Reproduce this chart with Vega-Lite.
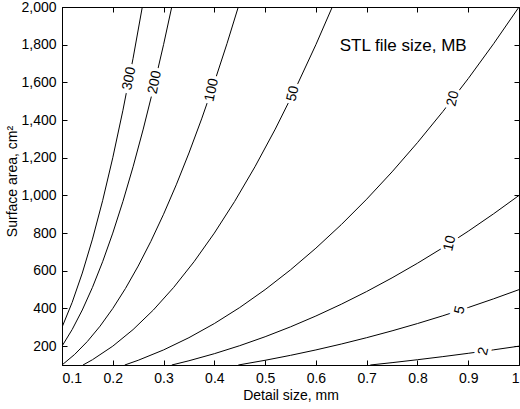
{
  "$schema": "https://vega.github.io/schema/vega-lite/v6.json",
  "width": 457,
  "height": 358,
  "autosize": "none",
  "padding": {"left": 62, "top": 7, "right": 1, "bottom": 44},
  "background": "white",
  "config": {
    "font": "Liberation Sans",
    "view": {"stroke": "black", "strokeWidth": 1},
    "axis": {"grid": false, "domainColor": "black", "tickColor": "black", "labelColor": "black", "titleColor": "black", "labelFontSize": 14, "titleFontSize": 14, "titleFontWeight": "normal", "tickSize": -5, "labelFont": "Liberation Sans", "titleFont": "Liberation Sans"}
  },
  "datasets": {
    "curves": [
      {"level": 300, "d": 0.1, "A": 300}, {"level": 300, "d": 0.12, "A": 432}, {"level": 300, "d": 0.14, "A": 588}, {"level": 300, "d": 0.16, "A": 768}, {"level": 300, "d": 0.18, "A": 972}, {"level": 300, "d": 0.2, "A": 1200}, {"level": 300, "d": 0.22, "A": 1452}, {"level": 300, "d": 0.24, "A": 1728}, {"level": 300, "d": 0.26, "A": 2028},
      {"level": 200, "d": 0.1, "A": 200}, {"level": 200, "d": 0.12, "A": 288}, {"level": 200, "d": 0.14, "A": 392}, {"level": 200, "d": 0.16, "A": 512}, {"level": 200, "d": 0.18, "A": 648}, {"level": 200, "d": 0.2, "A": 800}, {"level": 200, "d": 0.22, "A": 968}, {"level": 200, "d": 0.24, "A": 1152}, {"level": 200, "d": 0.26, "A": 1352}, {"level": 200, "d": 0.28, "A": 1568}, {"level": 200, "d": 0.3, "A": 1800}, {"level": 200, "d": 0.32, "A": 2048},
      {"level": 100, "d": 0.1, "A": 100}, {"level": 100, "d": 0.125, "A": 156.25}, {"level": 100, "d": 0.15, "A": 225}, {"level": 100, "d": 0.175, "A": 306.25}, {"level": 100, "d": 0.2, "A": 400}, {"level": 100, "d": 0.225, "A": 506.25}, {"level": 100, "d": 0.25, "A": 625}, {"level": 100, "d": 0.275, "A": 756.25}, {"level": 100, "d": 0.3, "A": 900}, {"level": 100, "d": 0.325, "A": 1056.25}, {"level": 100, "d": 0.35, "A": 1225}, {"level": 100, "d": 0.375, "A": 1406.25}, {"level": 100, "d": 0.4, "A": 1600}, {"level": 100, "d": 0.425, "A": 1806.25}, {"level": 100, "d": 0.45, "A": 2025},
      {"level": 50, "d": 0.1414, "A": 100}, {"level": 50, "d": 0.16, "A": 128}, {"level": 50, "d": 0.2, "A": 200}, {"level": 50, "d": 0.24, "A": 288}, {"level": 50, "d": 0.28, "A": 392}, {"level": 50, "d": 0.32, "A": 512}, {"level": 50, "d": 0.36, "A": 648}, {"level": 50, "d": 0.4, "A": 800}, {"level": 50, "d": 0.44, "A": 968}, {"level": 50, "d": 0.48, "A": 1152}, {"level": 50, "d": 0.52, "A": 1352}, {"level": 50, "d": 0.56, "A": 1568}, {"level": 50, "d": 0.6, "A": 1800}, {"level": 50, "d": 0.64, "A": 2048},
      {"level": 20, "d": 0.2236, "A": 100}, {"level": 20, "d": 0.25, "A": 125}, {"level": 20, "d": 0.3, "A": 180}, {"level": 20, "d": 0.35, "A": 245}, {"level": 20, "d": 0.4, "A": 320}, {"level": 20, "d": 0.45, "A": 405}, {"level": 20, "d": 0.5, "A": 500}, {"level": 20, "d": 0.55, "A": 605}, {"level": 20, "d": 0.6, "A": 720}, {"level": 20, "d": 0.65, "A": 845}, {"level": 20, "d": 0.7, "A": 980}, {"level": 20, "d": 0.75, "A": 1125}, {"level": 20, "d": 0.8, "A": 1280}, {"level": 20, "d": 0.85, "A": 1445}, {"level": 20, "d": 0.9, "A": 1620}, {"level": 20, "d": 0.95, "A": 1805}, {"level": 20, "d": 1.0, "A": 2000},
      {"level": 10, "d": 0.3162, "A": 100}, {"level": 10, "d": 0.35, "A": 122.5}, {"level": 10, "d": 0.4, "A": 160}, {"level": 10, "d": 0.45, "A": 202.5}, {"level": 10, "d": 0.5, "A": 250}, {"level": 10, "d": 0.55, "A": 302.5}, {"level": 10, "d": 0.6, "A": 360}, {"level": 10, "d": 0.65, "A": 422.5}, {"level": 10, "d": 0.7, "A": 490}, {"level": 10, "d": 0.75, "A": 562.5}, {"level": 10, "d": 0.8, "A": 640}, {"level": 10, "d": 0.85, "A": 722.5}, {"level": 10, "d": 0.9, "A": 810}, {"level": 10, "d": 0.95, "A": 902.5}, {"level": 10, "d": 1.0, "A": 1000},
      {"level": 5, "d": 0.4472, "A": 100}, {"level": 5, "d": 0.5, "A": 125}, {"level": 5, "d": 0.55, "A": 151.25}, {"level": 5, "d": 0.6, "A": 180}, {"level": 5, "d": 0.65, "A": 211.25}, {"level": 5, "d": 0.7, "A": 245}, {"level": 5, "d": 0.75, "A": 281.25}, {"level": 5, "d": 0.8, "A": 320}, {"level": 5, "d": 0.85, "A": 361.25}, {"level": 5, "d": 0.9, "A": 405}, {"level": 5, "d": 0.95, "A": 451.25}, {"level": 5, "d": 1.0, "A": 500},
      {"level": 2, "d": 0.7071, "A": 100}, {"level": 2, "d": 0.75, "A": 112.5}, {"level": 2, "d": 0.8, "A": 128}, {"level": 2, "d": 0.85, "A": 144.5}, {"level": 2, "d": 0.9, "A": 162}, {"level": 2, "d": 0.95, "A": 180.5}, {"level": 2, "d": 1.0, "A": 200}
    ],
    "labels": [
      {"level": 300, "d": 0.2324, "A": 1620},
      {"level": 200, "d": 0.283, "A": 1600},
      {"level": 100, "d": 0.395, "A": 1560},
      {"level": 50, "d": 0.555, "A": 1540},
      {"level": 20, "d": 0.87, "A": 1514},
      {"level": 10, "d": 0.864, "A": 746},
      {"level": 5, "d": 0.884, "A": 391},
      {"level": 2, "d": 0.93, "A": 173}
    ]
  },
  "layer": [
    {
      "data": {"name": "curves"},
      "mark": {"type": "line", "color": "black", "strokeWidth": 1, "clip": true},
      "encoding": {
        "x": {
          "field": "d", "type": "quantitative",
          "scale": {"domain": [0.1, 1], "nice": false, "zero": false},
          "axis": {"title": "Detail size, mm", "values": [0.1, 0.2, 0.3, 0.4, 0.5, 0.6, 0.7, 0.8, 0.9, 1], "format": "~g", "labelPadding": 11, "titleY": 23, "titleBaseline": "top"}
        },
        "y": {
          "field": "A", "type": "quantitative",
          "scale": {"domain": [100, 2000], "nice": false, "zero": false},
          "axis": {"title": "Surface area, cm²", "values": [200, 400, 600, 800, 1000, 1200, 1400, 1600, 1800, 2000], "format": ",d", "labelPadding": 11, "titleX": -50, "titleY": 174, "titleBaseline": "middle"}
        },
        "detail": {"field": "level", "type": "nominal"},
        "order": {"field": "d", "type": "quantitative"}
      }
    },
    {
      "data": {"name": "labels"},
      "mark": {"type": "text", "fontSize": 14, "stroke": "white", "strokeWidth": 7, "fill": "white", "align": "center", "baseline": "middle"},
      "encoding": {
        "x": {"field": "d", "type": "quantitative", "axis": null},
        "y": {"field": "A", "type": "quantitative", "axis": null},
        "text": {"field": "level", "type": "nominal"},
        "angle": {"field": "level", "type": "ordinal", "scale": {"domain": [300, 200, 100, 50, 20, 10, 5, 2], "range": [281, 283.5, 288.8, 295.8, 307.7, 327.3, 341.8, 352.1]}, "legend": null}
      }
    },
    {
      "data": {"name": "labels"},
      "mark": {"type": "text", "fontSize": 14, "fill": "black", "align": "center", "baseline": "middle"},
      "encoding": {
        "x": {"field": "d", "type": "quantitative", "axis": null},
        "y": {"field": "A", "type": "quantitative", "axis": null},
        "text": {"field": "level", "type": "nominal"},
        "angle": {"field": "level", "type": "ordinal", "scale": {"domain": [300, 200, 100, 50, 20, 10, 5, 2], "range": [281, 283.5, 288.8, 295.8, 307.7, 327.3, 341.8, 352.1]}, "legend": null}
      }
    },
    {
      "data": {"values": [{"t": "STL file size, MB"}]},
      "mark": {"type": "text", "fontSize": 17, "fill": "black", "align": "center", "baseline": "middle"},
      "encoding": {
        "text": {"field": "t"},
        "x": {"datum": 0.772, "axis": null},
        "y": {"datum": 1794, "axis": null}
      }
    },
    {
      "data": {"values": [{}]},
      "mark": {"type": "rule", "opacity": 0},
      "encoding": {
        "x": {"datum": 0.1, "axis": {"orient": "top", "labels": false, "title": null, "domain": false, "values": [0.1, 0.2, 0.3, 0.4, 0.5, 0.6, 0.7, 0.8, 0.9, 1]}},
        "y": {"datum": 100, "axis": {"orient": "right", "labels": false, "title": null, "domain": false, "values": [200, 400, 600, 800, 1000, 1200, 1400, 1600, 1800, 2000]}}
      }
    }
  ],
  "resolve": {"axis": {"x": "independent", "y": "independent"}}
}
